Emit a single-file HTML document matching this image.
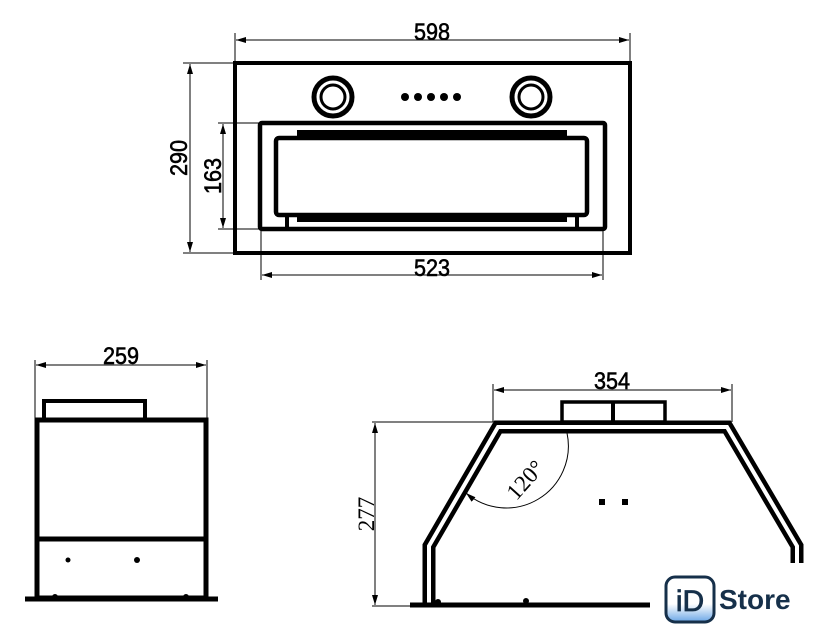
<!DOCTYPE html>
<html><head><meta charset="utf-8"><style>
html,body{margin:0;padding:0;background:#fff;width:840px;height:638px;overflow:hidden}
svg{display:block}
.d{font-family:"Liberation Sans",sans-serif;font-size:24px;fill:#000;stroke:#000;stroke-width:0.6}
.s{font-family:"Liberation Serif",serif;font-size:23px;fill:#000}
</style></head><body>
<svg width="840" height="638" viewBox="0 0 840 638" xmlns="http://www.w3.org/2000/svg">
<defs>
<marker id="a" viewBox="0 0 10 6" refX="10" refY="3" markerWidth="10" markerHeight="6" orient="auto-start-reverse" markerUnits="userSpaceOnUse"><path d="M0,0L10,3L0,6z" fill="#000"/></marker>
</defs>
<g stroke="#000" fill="none">
<line x1="235" y1="33" x2="235" y2="63" stroke-width="1"/>
<line x1="630" y1="33" x2="630" y2="63" stroke-width="1"/>
<line x1="236" y1="40" x2="629" y2="40" stroke-width="1" marker-start="url(#a)" marker-end="url(#a)"/>
<line x1="183" y1="63" x2="235" y2="63" stroke-width="1"/>
<line x1="183" y1="253" x2="235" y2="253" stroke-width="1"/>
<line x1="190" y1="64" x2="190" y2="252" stroke-width="1" marker-start="url(#a)" marker-end="url(#a)"/>
<rect x="235" y="63" width="395" height="190" stroke-width="4"/>
<circle cx="333" cy="97" r="19" stroke-width="5"/>
<circle cx="333" cy="97" r="12" stroke-width="3"/>
<circle cx="531" cy="97" r="19" stroke-width="5"/>
<circle cx="531" cy="97" r="12" stroke-width="3"/>
<rect x="260" y="123" width="345" height="106" rx="2" stroke-width="4.5"/>
<rect x="276" y="138" width="311" height="77" rx="3" stroke-width="4.5"/>
<path d="M297,134H567" stroke-width="8"/>
<path d="M297,218H567" stroke-width="8"/>
<path d="M287,215V228M577,215V228" stroke-width="4"/>
<line x1="218" y1="123" x2="260" y2="123" stroke-width="1"/>
<line x1="218" y1="229" x2="260" y2="229" stroke-width="1"/>
<line x1="223" y1="124" x2="223" y2="228" stroke-width="1" marker-start="url(#a)" marker-end="url(#a)"/>
<line x1="261" y1="229" x2="261" y2="280" stroke-width="1"/>
<line x1="603" y1="229" x2="603" y2="280" stroke-width="1"/>
<line x1="262" y1="275" x2="602" y2="275" stroke-width="1" marker-start="url(#a)" marker-end="url(#a)"/>

<line x1="35" y1="360" x2="35" y2="420" stroke-width="1"/>
<line x1="207" y1="360" x2="207" y2="420" stroke-width="1"/>
<line x1="36" y1="365" x2="206" y2="365" stroke-width="1" marker-start="url(#a)" marker-end="url(#a)"/>
<rect x="44" y="401" width="101" height="19" stroke-width="4"/>
<rect x="37" y="420" width="169" height="178" stroke-width="5"/>
<line x1="37" y1="539" x2="206" y2="539" stroke-width="5"/>
<line x1="25" y1="599" x2="218" y2="599" stroke-width="5"/>

<line x1="493" y1="384" x2="493" y2="422" stroke-width="1"/>
<line x1="732" y1="384" x2="732" y2="422" stroke-width="1"/>
<line x1="494" y1="390" x2="731" y2="390" stroke-width="1" marker-start="url(#a)" marker-end="url(#a)"/>
<line x1="372" y1="422" x2="493" y2="422" stroke-width="1"/>
<line x1="372" y1="606" x2="412" y2="606" stroke-width="1"/>
<line x1="375" y1="423" x2="375" y2="605" stroke-width="1" marker-start="url(#a)" marker-end="url(#a)"/>
<rect x="562" y="402" width="103" height="20" stroke-width="3.5"/>
<line x1="613" y1="402" x2="613" y2="430" stroke-width="4"/>
<g stroke-linejoin="miter">
<polyline points="429,604 429,546 498,427 727,427 797,546 797,563" stroke-width="13"/>
<polyline points="429,604 429,546 498,427 727,427 797,546 797,563" stroke="#fff" stroke-width="4"/>
</g>
<line x1="410" y1="605" x2="650" y2="605" stroke-width="5"/>
<path d="M567,433 A62,62 0 0 1 466,493" stroke-width="1" marker-end="url(#a)"/>
</g>
<g fill="#000">
<circle cx="405" cy="97" r="4"/><circle cx="418" cy="97" r="4"/><circle cx="431" cy="97" r="4"/><circle cx="444" cy="97" r="4"/><circle cx="457" cy="97" r="4"/>
<circle cx="68" cy="560" r="2.5"/><circle cx="137" cy="560" r="3"/>
<circle cx="55" cy="597" r="3"/><circle cx="186" cy="597" r="3"/>
<rect x="599" y="499" width="6" height="6"/><rect x="622" y="499" width="6" height="6"/>
<circle cx="438" cy="602" r="3"/><circle cx="526" cy="601" r="3"/>
</g>
<text class="d" x="432" y="40" text-anchor="middle" transform="translate(432 0) scale(0.9 1) translate(-432 0)">598</text>
<text class="d" x="432" y="276" text-anchor="middle" transform="translate(432 0) scale(0.9 1) translate(-432 0)">523</text>
<text class="d" x="121" y="364" text-anchor="middle" transform="translate(121 0) scale(0.9 1) translate(-121 0)">259</text>
<text class="d" x="612" y="389" text-anchor="middle" transform="translate(612 0) scale(0.9 1) translate(-612 0)">354</text>
<text class="d" text-anchor="middle" transform="translate(187 158) rotate(-90) scale(0.9 1)">290</text>
<text class="d" text-anchor="middle" transform="translate(221 176) rotate(-90) scale(0.9 1)">163</text>
<text class="s" text-anchor="middle" transform="translate(374 514) rotate(-90)">277</text>
<text class="s" text-anchor="middle" transform="translate(531 485) rotate(-48)">120°</text>
<defs><linearGradient id="g" x1="0" y1="0" x2="0" y2="1"><stop offset="0.6" stop-color="#fff"/><stop offset="1" stop-color="#6aa6e6"/></linearGradient></defs>
<rect x="666" y="577" width="48" height="45" rx="9" fill="url(#g)" stroke="#16304a" stroke-width="3"/>
<text x="690" y="611" text-anchor="middle" font-family="Liberation Sans,sans-serif" font-size="30" fill="#16304a" stroke="#16304a" stroke-width="0.8">iD</text>
<text x="719" y="609" font-family="Liberation Sans,sans-serif" font-weight="bold" font-size="28" fill="#16304a">Store</text>
</svg>
</body></html>
